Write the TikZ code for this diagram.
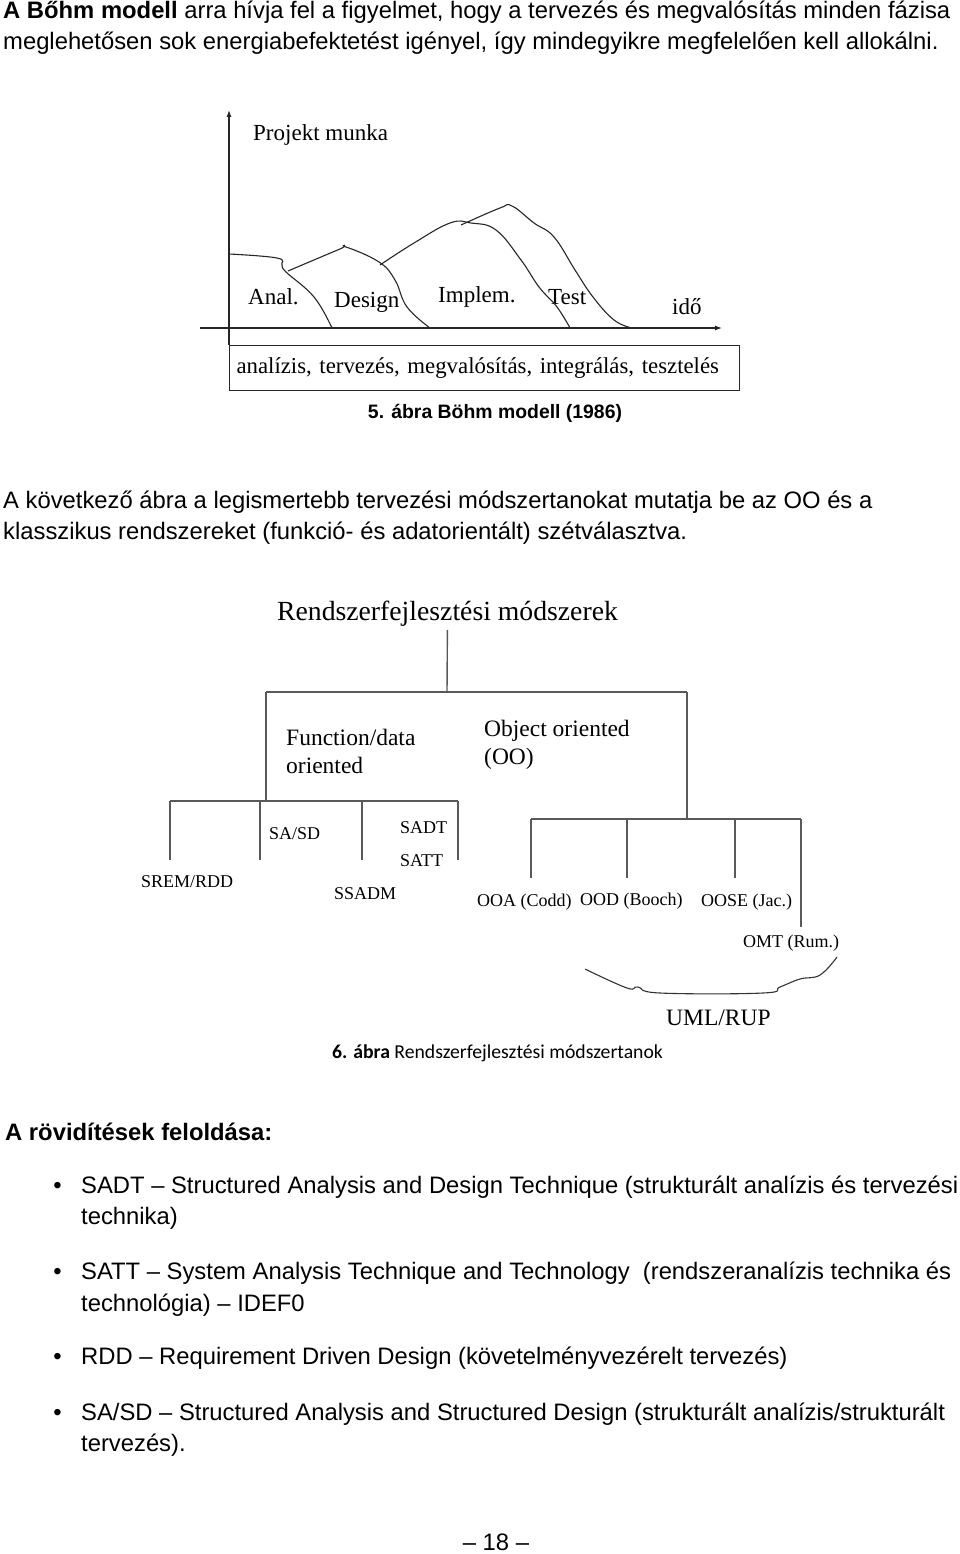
\documentclass[tikz,border=0pt]{standalone}
\usepackage{fontspec}
\setmainfont{Liberation Serif}
\setsansfont{Liberation Sans}
\newfontfamily\calibri{Carlito}
\usetikzlibrary{arrows.meta, positioning}

\begin{document}
\begin{tikzpicture}[x=1pt, y=-1pt,
      body/.style={anchor=west, inner sep=0pt, font=\sffamily\fontsize{23.8}{28}\selectfont},
      dot/.style={anchor=base east, inner sep=0pt, font=\sffamily\fontsize{23.8}{28}\selectfont},
      lbl/.style={anchor=west, inner sep=0pt, font=\fontsize{23}{28}\selectfont},
      mid/.style={anchor=west, inner sep=0pt, align=left, font=\fontsize{23.5}{28}\selectfont},
      small/.style={anchor=west, inner sep=0pt, font=\fontsize{18}{22}\selectfont},
      hill/.style={black!85, line width=1.1pt, smooth, tension=0.7},
      axis/.style={black!85, line width=1.1pt, -{Latex[length=7pt, width=5pt]}},
      branch/.style={black!65, line width=1.4pt}
    ]
    \useasboundingbox (0,0) rectangle (960,1554);

    \node[body] (p1a) at (3,12) {\textbf{A Bőhm modell} arra hívja fel a figyelmet, hogy a tervezés és megvalósítás minden fázisa};
    \node[body] (p1b) at (3,43) {meglehetősen sok energiabefektetést igényel, így mindegyikre megfelelően kell allokálni.};

    % Bohm chart
    \node[draw, black!85, line width=1.1pt, anchor=north west, minimum height=45pt, text width=496pt,
          inner xsep=7pt, inner ysep=0pt, text=black, font=\fontsize{22.8}{28}\selectfont]
          (phases) at (229,345) {analízis, tervezés, megvalósítás, integrálás, tesztelés};
    \coordinate (ytop) at (229,110);
    \coordinate (xl) at (200,328);
    \coordinate (xr) at (722,328);
    \draw[axis] (phases.north west) -- (ytop);
    \draw[axis] (xl) -- (xr);
    \node[lbl] (work) at (253,135) {Projekt munka};
    \node[lbl] (anal) at (248,297) {Anal.};
    \node[lbl] (design) at (334,302) {Design};
    \node[lbl] (impl) at (438,297) {Implem.};
    \node[lbl] (test) at (548,297) {Test};
    \node[lbl] (time) at (672,307) {idő};
    \draw[hill] plot coordinates {(229,254) (277,258) (282,265) (286,272) (314,297) (332,328)};
    \draw[hill] plot coordinates {(288,271) (340,249) (346,247) (379,262) (395,280) (407,307) (430,328)};
    \draw[hill] plot coordinates {(380,265) (414,243) (450,223) (471,223) (496,230) (521,260) (539,287) (557,307) (570,328)};
    \draw[hill] plot coordinates {(461,225) (500,208) (512,206) (534,223) (554,237) (575,270) (593,297) (614,320) (632,328)};
    \node[font=\sffamily\bfseries\fontsize{19.4}{24}\selectfont, inner sep=0pt] (cap5) at (495,413) {5. ábra Böhm modell (1986)};

    \node[body] (p2a) at (3,502) {A következő ábra a legismertebb tervezési módszertanokat mutatja be az OO és a};
    \node[body] (p2b) at (3,533) {klasszikus rendszereket (funkció- és adatorientált) szétválasztva.};

    % method tree
    \node[font=\fontsize{27.7}{32}\selectfont, inner sep=3pt] (methods) at (447.5,614) {Rendszerfejlesztési módszerek};
    \coordinate (split) at (447,692);
    \coordinate (fdtop) at (266,692);
    \coordinate (ootop) at (687,692);
    \coordinate (fdjoin) at (266,801);
    \coordinate (oojoin) at (687,819);
    \draw[branch] (methods) -- (split);
    \draw[branch] (fdtop) -- (ootop);
    \draw[branch] (fdtop) -- (fdjoin);
    \draw[branch] (ootop) -- (oojoin);
    \node[mid] (fd) at (286,751) {Function/data\\oriented};
    \node[mid] (oo) at (484,745) {Object oriented\\(OO)};
    \coordinate (fl) at (170,801);
    \coordinate (fr) at (458,801);
    \draw[branch] (fl) -- (fr);
    \foreach \x [count=\i] in {170,260,362,458} {
      \coordinate (fa\i) at (\x,801);
      \coordinate (fb\i) at (\x,860);
      \draw[branch] (fa\i) -- (fb\i);
    }
    \coordinate (ol) at (531,819);
    \coordinate (or) at (801,819);
    \draw[branch] (ol) -- (or);
    \foreach \x/\e [count=\i] in {531/878,627/878,735/878,801/927} {
      \coordinate (oa\i) at (\x,819);
      \coordinate (ob\i) at (\x,\e);
      \draw[branch] (oa\i) -- (ob\i);
    }
    \node[small] (sasd) at (269,834) {SA/SD};
    \node[small] (sadt) at (400,828) {SADT};
    \node[small] (satt) at (400,861) {SATT};
    \node[small] (srem) at (141,882) {SREM/RDD};
    \node[small] (ssadm) at (334,894) {SSADM};
    \node[small] (ooa) at (477,902) {OOA (Codd)};
    \node[small] (ood) at (580,901) {OOD (Booch)};
    \node[small] (oose) at (701,902) {OOSE (Jac.)};
    \node[small] (omt) at (743,943) {OMT (Rum.)};
    \draw[hill, black!80] plot coordinates {(585,969) (627,988) (638,987) (660,993) (763,993) (780,987) (800,979) (820,975) (837,957)};
    \node[mid] (uml) at (666,1018) {UML/RUP};
    \node[anchor=west, inner sep=0pt, font=\calibri\fontsize{19.7}{23}\selectfont] (cap6) at (332,1053) {\textbf{6. ábra} Rendszerfejlesztési módszertanok};

    \node[body] (abbr) at (5,1132) {\textbf{A rövidítések feloldása:}};
    \node[body] (t1a) at (81,1187) {SADT – Structured Analysis and Design Technique (strukturált analízis és tervezési};
    \node[body] (t1b) at (81,1218) {technika)};
    \node[body] (t2a) at (81,1273) {SATT – System Analysis Technique and Technology\ \ (rendszeranalízis technika és};
    \node[body] (t2b) at (81,1305) {technológia) – IDEF0};
    \node[body] (t3a) at (81,1358) {RDD – Requirement Driven Design (követelményvezérelt tervezés)};
    \node[body] (t4a) at (81,1414) {SA/SD – Structured Analysis and Structured Design (strukturált analízis/strukturált};
    \node[body] (t4b) at (81,1445) {tervezés).};
    \node[dot] (b1) at ([xshift=-19pt]t1a.base west) {•};
    \node[dot] (b2) at ([xshift=-19pt]t2a.base west) {•};
    \node[dot] (b3) at ([xshift=-19pt]t3a.base west) {•};
    \node[dot] (b4) at ([xshift=-19pt]t4a.base west) {•};
    \node[body, anchor=center] (page) at (496,1542) {– 18 –};
  \end{tikzpicture}
\end{document}
